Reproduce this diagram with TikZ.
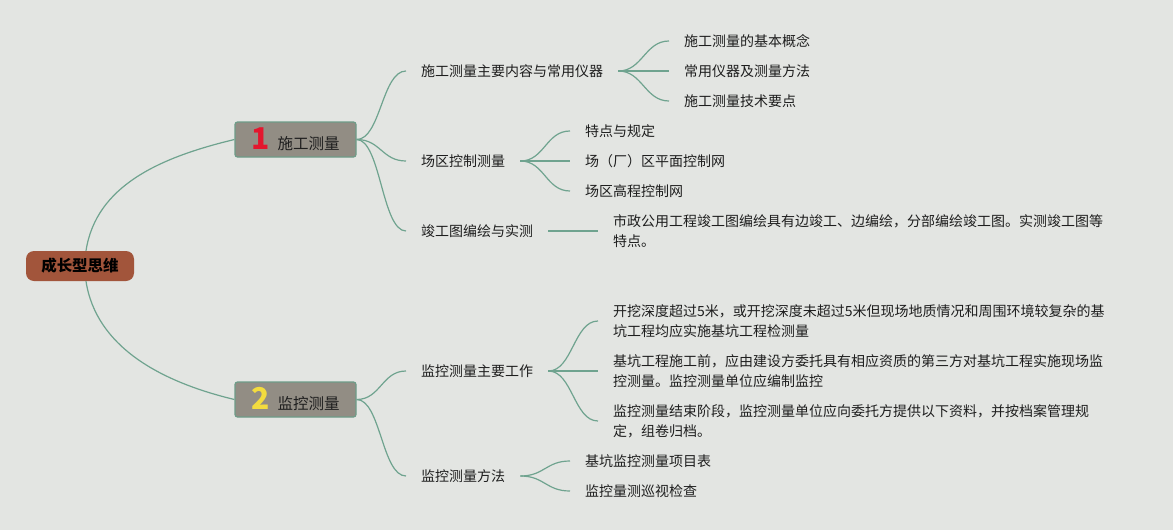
\documentclass[tikz,border=0pt]{standalone}
\usepackage{fontspec}
\setmainfont{Noto Sans CJK SC}
\usepackage{xcolor}
\definecolor{mmPaper}{HTML}{E3E5E2}
\definecolor{mmLink}{HTML}{6FA38F}
\definecolor{mmRoot}{HTML}{A2553B}
\definecolor{mmTopic}{HTML}{928D84}
\definecolor{mmEdge}{HTML}{6E9C88}
\definecolor{mmRed}{HTML}{E3162E}
\definecolor{mmGold}{HTML}{F3DC3F}
\definecolor{mmInk}{HTML}{1E1E1E}
\tikzset{
	leaf/.style={anchor=west,inner sep=0pt,text=mmInk,align=left,font=\fontsize{14}{20}\selectfont},
	topic/.style={draw=mmEdge,line width=1.2pt,fill=mmTopic,rounded corners=2.5pt,
		minimum width=121,minimum height=35,text=mmInk,font=\fontsize{15.5}{18}\selectfont},
	link/.style={mmLink,line width=1.2pt},
	fork/.style={link,to path={.. controls +(24,0) and +(-24,0) .. (\tikztotarget)}}
}

\begin{document}
\begin{tikzpicture}[x=1pt,y=-1pt]
		\fill[mmPaper] (0,0) rectangle (1173,530);
		\useasboundingbox (0,0) rectangle (1173,530);
		\node[fill=mmRoot,rounded corners=8pt,minimum width=108,minimum height=30,text=black,
			font=\fontsize{15.5}{18}\selectfont\bfseries] (root) at (80,266) {成长型思维};
		\node[topic] (t1) at (295.5,139.5) {{\color{mmRed}\fontsize{30}{30}\selectfont\bfseries 1}\hspace{8pt}施工测量};
		\node[topic] (t2) at (295.5,399.5) {{\color{mmGold}\fontsize{30}{30}\selectfont\bfseries 2}\hspace{8pt}监控测量};
		\node[leaf] (a) at (421,71) {施工测量主要内容与常用仪器};
		\node[leaf] (b) at (421,161) {场区控制测量};
		\node[leaf] (c) at (421,231) {竣工图编绘与实测};
		\node[leaf] (d) at (421,371) {监控测量主要工作};
		\node[leaf] (e) at (421,476) {监控测量方法};
		\node[leaf] (a1) at (684,41) {施工测量的基本概念};
		\node[leaf] (a2) at (684,71) {常用仪器及测量方法};
		\node[leaf] (a3) at (684,101) {施工测量技术要点};
		\node[leaf] (b1) at (585,131) {特点与规定};
		\node[leaf] (b2) at (585,161) {场（厂）区平面控制网};
		\node[leaf] (b3) at (585,191) {场区高程控制网};
		\node[leaf] (c1) at (613,231) {市政公用工程竣工图编绘具有边竣工、边编绘，分部编绘竣工图。实测竣工图等\\特点。};
		\node[leaf] (d1) at (613,321) {开挖深度超过5米，或开挖深度未超过5米但现场地质情况和周围环境较复杂的基\\坑工程均应实施基坑工程检测量};
		\node[leaf] (d2) at (613,371) {基坑工程施工前，应由建设方委托具有相应资质的第三方对基坑工程实施现场监\\控测量。监控测量单位应编制监控};
		\node[leaf] (d3) at (613,421) {监控测量结束阶段，监控测量单位应向委托方提供以下资料，并按档案管理规\\定，组卷归档。};
		\node[leaf] (e1) at (585,461) {基坑监控测量项目表};
		\node[leaf] (e2) at (585,491) {监控量测巡视检查};
		\draw[link] ([xshift=6]root.north) .. controls +(10,-65) and +(-75,18) .. (t1.west);
		\draw[link] ([xshift=6]root.south) .. controls +(10,65) and +(-75,-18) .. (t2.west);
		\foreach \k in {a,b,c} \draw[fork] (t1.east) to ([xshift=-15]\k.west);
		\foreach \k in {d,e} \draw[fork] (t2.east) to ([xshift=-15]\k.west);
		\foreach \k in {a1,a2,a3} \draw[fork] ([xshift=15]a.east) to ([xshift=-15]\k.west);
		\foreach \k in {b1,b2,b3} \draw[fork] ([xshift=15]b.east) to ([xshift=-15]\k.west);
		\foreach \k in {d1,d2,d3} \draw[fork] ([xshift=15]d.east) to ([xshift=-15]\k.west);
		\foreach \k in {e1,e2} \draw[fork] ([xshift=15]e.east) to ([xshift=-15]\k.west);
		\draw[link] ([xshift=15]c.east) -- ([xshift=-15]c1.west);
	\end{tikzpicture}
\end{document}
